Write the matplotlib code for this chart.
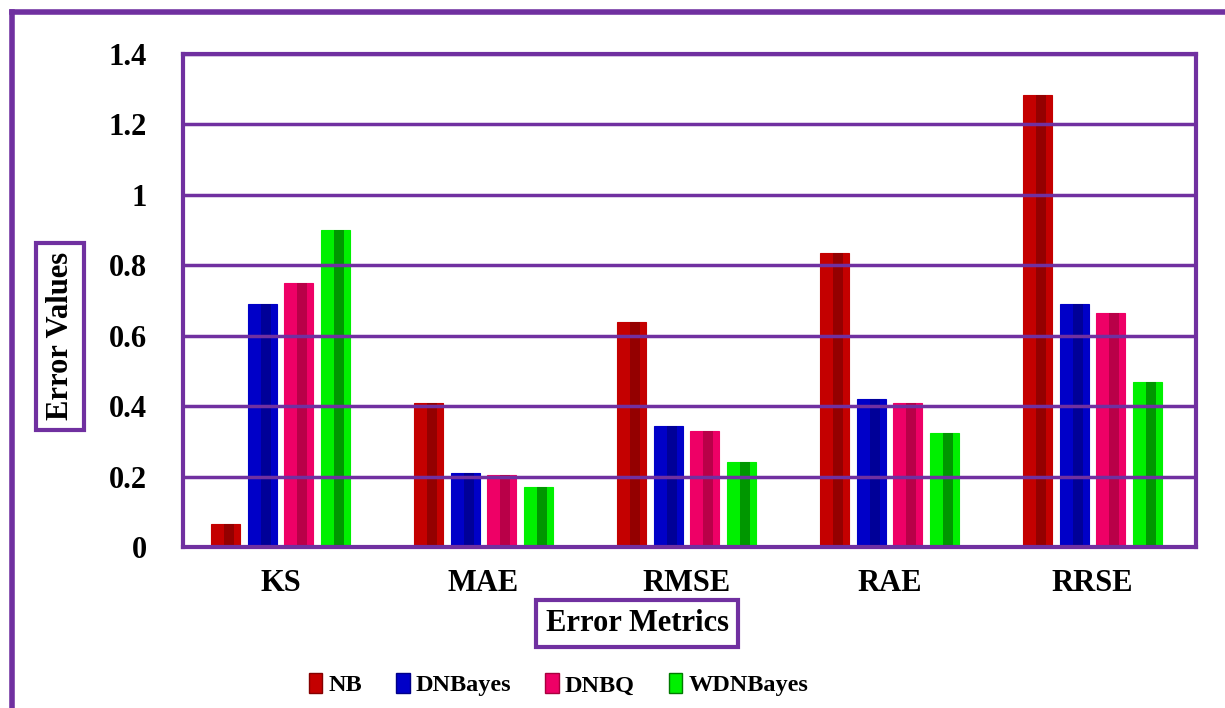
import matplotlib.pyplot as plt
from matplotlib.lines import Line2D
from matplotlib.patches import Patch
import numpy as np

plt.rcParams['font.family'] = ['Liberation Serif', 'DejaVu Serif']
plt.rcParams['font.weight'] = 'bold'

metrics = ['KS', 'MAE', 'RMSE', 'RAE', 'RRSE']
models = ['NB', 'DNBayes', 'DNBQ', 'WDNBayes']

nb = [0.065, 0.41, 0.64, 0.835, 1.285]
dnbayes = [0.69, 0.21, 0.345, 0.42, 0.69]
dnbq = [0.75, 0.205, 0.33, 0.41, 0.665]
wdnbayes = [0.90, 0.17, 0.24, 0.325, 0.47]
series = [nb, dnbayes, dnbq, wdnbayes]

yticks = [0, 0.2, 0.4, 0.6, 0.8, 1, 1.2, 1.4]
ytick_labels = ['0', '0.2', '0.4', '0.6', '0.8', '1', '1.2', '1.4']

purple = '#7030A0'
face = ['#C40000', '#0000C8', '#EE0066', '#00F000']
shade = ['#840000', '#000088', '#A8003E', '#007A00']

fig = plt.figure(figsize=(12.25, 7.08), dpi=100)
ax = fig.add_axes([0.1494, 0.2274, 0.8269, 0.6963])

x = np.arange(len(metrics))
step = 0.18
width = 0.143
for i, vals in enumerate(series):
    pos = x + (i - 1.5) * step
    ax.bar(pos, vals, width, color=face[i], edgecolor=face[i], linewidth=0.8, zorder=1)
    # darker stripe gives the bars a rounded look
    ax.bar(pos + width * 0.12, vals, width * 0.35, color=shade[i], alpha=0.75,
           linewidth=0, zorder=1.1)

ax.set_xlim(-0.48, 4.51)
ax.set_ylim(0, 1.4)
ax.set_yticks(yticks)
ax.set_yticklabels(ytick_labels)
ax.set_xticks(x)
ax.set_xticklabels(metrics)
ax.tick_params(axis='y', length=0, labelsize=22, pad=26)
ax.tick_params(axis='x', length=0, labelsize=22, pad=16)
ax.grid(axis='y', color=purple, linewidth=2.5)
for s in ax.spines.values():
    s.set_color(purple)
    s.set_linewidth(3)

fig.text(0.049, 0.525, 'Error Values', rotation=90, ha='center', va='center',
         fontsize=22, fontweight='bold',
         bbox=dict(boxstyle='square,pad=0.3', fc='white', ec=purple, lw=3))
fig.text(0.52, 0.119, 'Error Metrics', ha='center', va='center',
         fontsize=22, fontweight='bold',
         bbox=dict(boxstyle='square,pad=0.3', fc='white', ec=purple, lw=3))

handles = [Patch(facecolor=face[i], edgecolor=shade[i], label=models[i]) for i in range(4)]
fig.legend(handles=handles, loc='center', bbox_to_anchor=(0.456, 0.033), ncol=4,
           frameon=False, fontsize=17.5, handlelength=0.55, handleheight=0.9,
           handletextpad=0.25, columnspacing=1.4)

# outer frame along top and left edges
fig.add_artist(Line2D([12 / 1225, 1], [1 - 12 / 708, 1 - 12 / 708], color=purple,
                      linewidth=4, transform=fig.transFigure))
fig.add_artist(Line2D([12 / 1225, 12 / 1225], [0, 1 - 12 / 708], color=purple,
                      linewidth=4, transform=fig.transFigure))

fig.savefig('out.png', dpi=100)
